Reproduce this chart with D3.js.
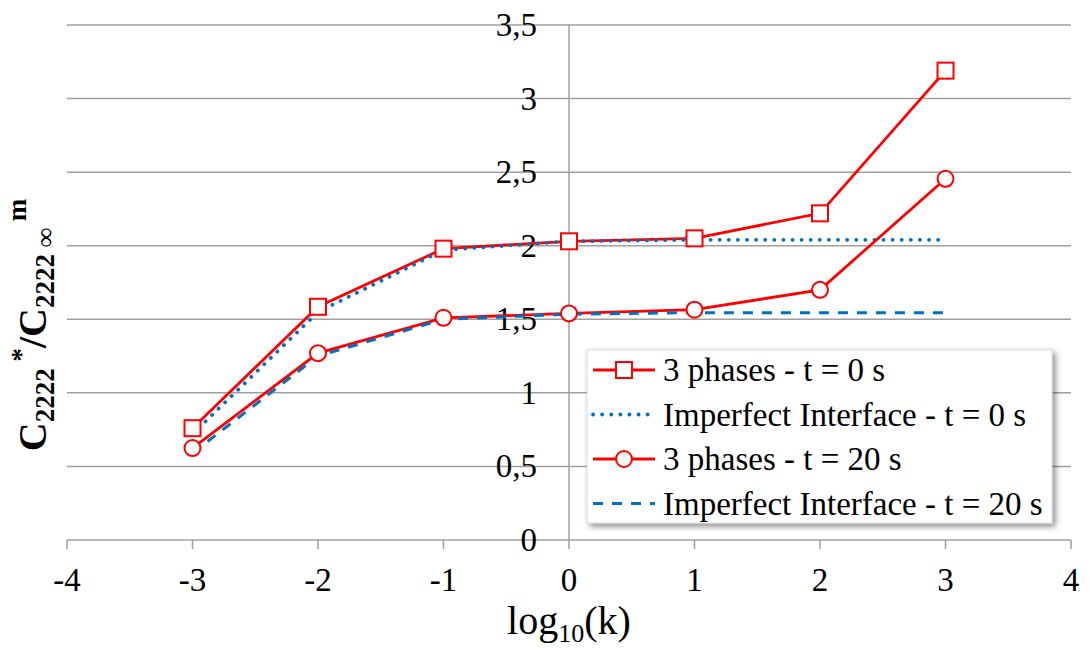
<!DOCTYPE html>
<html>
<head>
<meta charset="utf-8">
<script src="https://cdn.jsdelivr.net/npm/d3@7"></script>
<style>
    body { margin: 0; background: #fff; }
</style>
</head>
<body>
<div id="chart"></div>
<script>
// log10(k) values
const logK = [-3, -2, -1, 0, 1, 2, 3]
const phases0 = [0.76, 1.585, 1.98, 2.03, 2.05, 2.22, 3.19]
const interface0 = [0.72, 1.55, 1.97, 2.03, 2.04, 2.04, 2.04]
const phases20 = [0.625, 1.27, 1.51, 1.54, 1.565, 1.70, 2.455]
const interface20 = [0.59, 1.25, 1.50, 1.535, 1.545, 1.545, 1.545]
const xTicks = [-4, -3, -2, -1, 0, 1, 2, 3, 4]
const yTicks = [0, 0.5, 1, 1.5, 2, 2.5, 3, 3.5]

const series = [
    { name: "3 phases - t = 0 s", values: phases0, color: "#ff0000", dash: null, marker: "square", width: 2.8 },
    { name: "Imperfect Interface - t = 0 s", values: interface0, color: "#0070c0", dash: "0.1 9", marker: null, width: 3.8 },
    { name: "3 phases - t = 20 s", values: phases20, color: "#ff0000", dash: null, marker: "circle", width: 2.8 },
    { name: "Imperfect Interface - t = 20 s", values: interface20, color: "#0070c0", dash: "10 9", marker: null, width: 3 }
]

const width = 1091
const height = 648
const FONT = "Liberation Serif"
const x = d3.scaleLinear().domain([-4, 4]).range([67, 1071])
const y = d3.scaleLinear().domain([0, 3.5]).range([540, 25])
const fmt = v => d3.format("")(v).replace(".", ",")

const svg = d3.select("#chart").append("svg")
    .attr("width", width)
    .attr("height", height)

const defs = svg.append("defs")
const shadow = defs.append("filter").attr("id", "shadow")
    .attr("x", "-10%").attr("y", "-10%").attr("width", "130%").attr("height", "130%")
shadow.append("feDropShadow")
    .attr("dx", 3).attr("dy", 3).attr("stdDeviation", 3)
    .attr("flood-color", "#000").attr("flood-opacity", 0.45)

// horizontal gridlines
svg.append("g").selectAll("line").data(yTicks).enter().append("line")
    .attr("x1", x(-4)).attr("x2", x(4))
    .attr("y1", d => y(d)).attr("y2", d => y(d))
    .attr("stroke", "#a0a0a0").attr("stroke-width", 1.5)

// vertical axis at x = 0
svg.append("line")
    .attr("x1", x(0)).attr("x2", x(0))
    .attr("y1", y(3.5)).attr("y2", y(0))
    .attr("stroke", "#a0a0a0").attr("stroke-width", 1.5)

// x tick marks
svg.append("g").selectAll("line").data(xTicks).enter().append("line")
    .attr("x1", d => x(d)).attr("x2", d => x(d))
    .attr("y1", y(0)).attr("y2", y(0) + 9)
    .attr("stroke", "#a0a0a0").attr("stroke-width", 1.5)

svg.append("g").selectAll("text").data(xTicks).enter().append("text")
    .attr("x", d => x(d))
    .attr("y", 580)
    .attr("text-anchor", "middle")
    .attr("dominant-baseline", "central")
    .attr("font-family", FONT)
    .attr("font-size", 33)
    .text(d => d)

svg.append("g").selectAll("text").data(yTicks).enter().append("text")
    .attr("x", x(0) - 32)
    .attr("y", d => y(d))
    .attr("text-anchor", "end")
    .attr("dominant-baseline", "central")
    .attr("font-family", FONT)
    .attr("font-size", 33)
    .text(d => fmt(d))

// axis titles
const xt = svg.append("text")
    .attr("x", x(0))
    .attr("y", 634)
    .attr("text-anchor", "middle")
    .attr("font-family", FONT)
    .attr("font-size", 40)
xt.append("tspan").text("log")
xt.append("tspan").attr("dy", 8).attr("font-size", 26).text("10")
xt.append("tspan").attr("dy", -8).text("(k)")

const yt = svg.append("text")
    .attr("transform", "translate(46,325) rotate(-90)")
    .attr("text-anchor", "middle")
    .attr("font-family", FONT)
    .attr("font-size", 40)
    .attr("font-weight", "bold")
yt.append("tspan").text("C")
yt.append("tspan").attr("dy", 8).attr("font-size", 27).text("2222")
yt.append("tspan").attr("dy", -24).attr("font-size", 27).text(" *")
yt.append("tspan").attr("dy", 16).text("/C")
yt.append("tspan").attr("dy", 8).attr("font-size", 27).text("2222 ∞")
yt.append("tspan").attr("dy", -28).attr("font-size", 27).text(" m")

// series
const line = d3.line().x((d, i) => x(logK[i])).y(d => y(d))
const plot = svg.append("g")
series.forEach(s => {
    plot.append("path")
        .attr("d", line(s.values))
        .attr("fill", "none")
        .attr("stroke", s.color)
        .attr("stroke-width", s.width)
        .attr("stroke-linecap", s.dash && s.dash.startsWith("0.1") ? "round" : "butt")
        .attr("stroke-dasharray", s.dash)
})

function drawMarker(g, kind, cx, cy, color) {
    if (kind === "square") {
        g.append("rect")
            .attr("x", cx - 8).attr("y", cy - 8)
            .attr("width", 16).attr("height", 16)
            .attr("fill", "#fff").attr("stroke", color).attr("stroke-width", 2)
    } else if (kind === "circle") {
        g.append("circle")
            .attr("cx", cx).attr("cy", cy).attr("r", 8)
            .attr("fill", "#fff").attr("stroke", color).attr("stroke-width", 2)
    }
}

series.filter(s => s.marker).forEach(s => {
    s.values.forEach((v, i) => drawMarker(plot, s.marker, x(logK[i]), y(v), s.color))
})

// legend
const legend = svg.append("g")
legend.append("rect")
    .attr("x", 587).attr("y", 350)
    .attr("width", 465).attr("height", 173)
    .attr("fill", "#fff")
    .attr("stroke", "#d9d9d9")
    .attr("filter", "url(#shadow)")

series.forEach((s, i) => {
    const ly = 370 + i * 44.5
    legend.append("line")
        .attr("x1", 593).attr("x2", 655)
        .attr("y1", ly).attr("y2", ly)
        .attr("stroke", s.color)
        .attr("stroke-width", s.width)
        .attr("stroke-linecap", s.dash && s.dash.startsWith("0.1") ? "round" : "butt")
        .attr("stroke-dasharray", s.dash)
    if (s.marker) drawMarker(legend, s.marker, 624, ly, s.color)
    legend.append("text")
        .attr("x", 663).attr("y", ly)
        .attr("dominant-baseline", "central")
        .attr("font-family", FONT)
        .attr("font-size", 33)
        .text(s.name)
})
</script>
</body>
</html>
